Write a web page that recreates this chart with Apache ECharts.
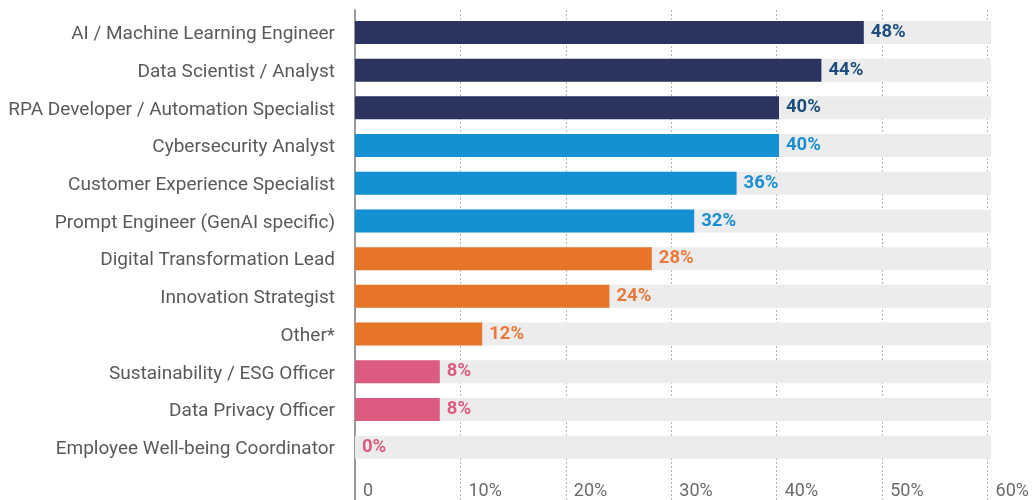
<!DOCTYPE html>
<html>
<head>
<meta charset="utf-8">
<script src="https://cdn.jsdelivr.net/npm/echarts@6/dist/echarts.min.js"></script>
<style>
  html, body { margin: 0; padding: 0; background: #fff; }
  #chart { width: 1032px; height: 500px; }
</style>
</head>
<body>
<div id="chart"></div>
<script>
// Roles and share of respondents (%)
const roles = [
  'AI / Machine Learning Engineer',
  'Data Scientist / Analyst',
  'RPA Developer / Automation Specialist',
  'Cybersecurity Analyst',
  'Customer Experience Specialist',
  'Prompt Engineer (GenAI specific)',
  'Digital Transformation Lead',
  'Innovation Strategist',
  'Other*',
  'Sustainability / ESG Officer',
  'Data Privacy Officer',
  'Employee Well-being Coordinator'
];
const shares = [48, 44, 40, 40, 36, 32, 28, 24, 12, 8, 8, 0];
// colour group per role
const groups = [0, 0, 0, 1, 1, 1, 2, 2, 2, 3, 3, 3];
const tickValues = [0, 10, 20, 30, 40, 50, 60];

const barColors = ['#2b3360', '#1490d3', '#e67528', '#db5c80'];
const labelColors = ['#1c4d7e', '#1a8fd0', '#e8793a', '#db5c80'];

const FONT = 'Roboto, "Noto Sans", sans-serif';
const LEFT = 355, RIGHT = 41;

const chart = echarts.init(document.getElementById('chart'), null, { renderer: 'canvas' });

chart.setOption({
  animation: false,
  backgroundColor: '#ffffff',
  grid: [
    { left: LEFT, right: RIGHT, top: 13.6, height: 452.4, containLabel: false },
    { left: LEFT, right: RIGHT, top: 10, bottom: 0, containLabel: false }
  ],
  xAxis: [
    { gridIndex: 0, type: 'value', min: 0, max: 60, show: false },
    {
      gridIndex: 1, type: 'value', min: 0, max: 60, interval: 10,
      axisLine: { show: false }, axisTick: { show: false },
      splitLine: { show: true, lineStyle: { color: '#b4b4b4', type: [2, 2], width: 1 } },
      axisLabel: {
        inside: true, margin: 0, align: 'left', verticalAlign: 'bottom',
        padding: [0, 0, 0, 8],
        color: '#6b6b6b', fontSize: 18, fontFamily: FONT,
        formatter: v => tickValues.includes(v) ? (v === 0 ? '0' : v + '%') : ''
      }
    }
  ],
  yAxis: [
    {
      gridIndex: 0, type: 'category', data: roles, inverse: true,
      axisLine: { show: false }, axisTick: { show: false },
      axisLabel: {
        margin: 20, color: '#5a5a5a', fontSize: 19, fontFamily: FONT,
        verticalAlign: 'top', lineHeight: 4
      }
    },
    {
      gridIndex: 1, type: 'value', min: 0, max: 1,
      axisLine: { show: true, lineStyle: { color: '#9a9a9a', width: 2 } },
      axisTick: { show: false }, axisLabel: { show: false }, splitLine: { show: false }
    }
  ],
  series: [
    {
      type: 'bar', xAxisIndex: 0, yAxisIndex: 0,
      barWidth: 23,
      showBackground: true,
      backgroundStyle: { color: '#ececec' },
      data: shares.map((v, i) => ({
        value: v,
        itemStyle: { color: barColors[groups[i]] },
        label: { color: labelColors[groups[i]] }
      })),
      label: {
        show: true, position: 'right', distance: 7,
        fontSize: 18.5, fontWeight: 'bold', fontFamily: FONT,
        formatter: p => p.value + '%'
      },
      z: 3
    }
  ]
});
</script>
</body>
</html>
